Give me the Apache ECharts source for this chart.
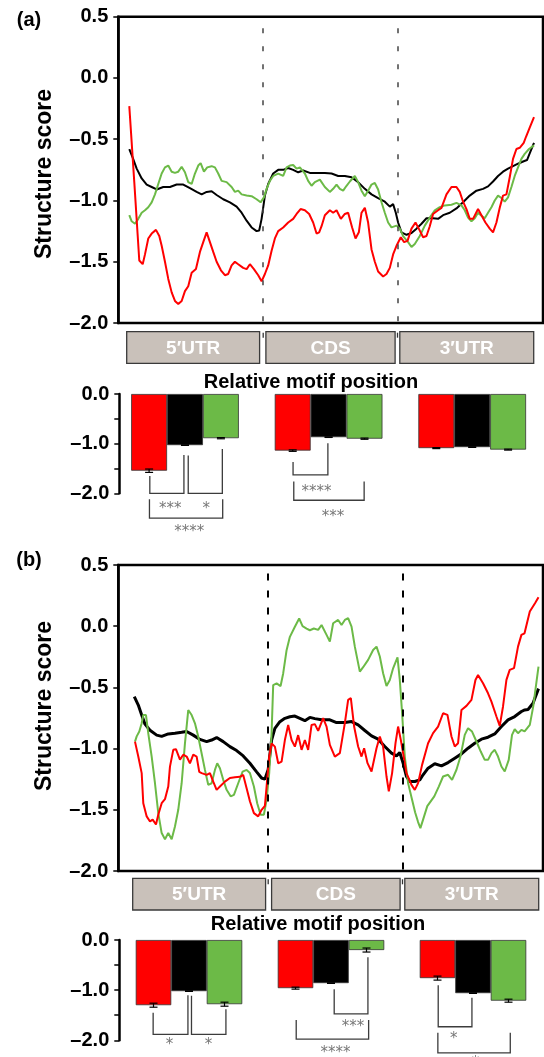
<!DOCTYPE html>
<html>
<head>
<meta charset="utf-8">
<script src="https://cdn.jsdelivr.net/npm/echarts@6/dist/echarts.min.js"></script>
<style>
  html, body { margin: 0; padding: 0; background: #fff; }
  #chart { width: 544px; height: 1057px; }
</style>
</head>
<body>
<div id="chart"></div>
<script>
// position along the transcript (arbitrary units), structure score
const redA = [[11,-0.23],[16,-0.85],[21,-1.49],[24.4,-1.52],[26.7,-1.44],[30,-1.31],[33.4,-1.27],[37.7,-1.24],[41,-1.29],[43.4,-1.37],[46.7,-1.5],[50,-1.64],[53.4,-1.75],[56.7,-1.82],[60,-1.845],[63.4,-1.82],[66.7,-1.74],[70,-1.7],[73.4,-1.59],[77.7,-1.56],[81.7,-1.42],[85,-1.34],[88.4,-1.26],[91.7,-1.34],[95,-1.42],[98.4,-1.5],[102.7,-1.57],[106.7,-1.61],[110,-1.6],[113.4,-1.53],[116.7,-1.5],[120,-1.52],[125,-1.55],[128.4,-1.56],[131.7,-1.52],[135.7,-1.56],[140,-1.61],[143.4,-1.66],[146.7,-1.6],[150,-1.53],[153.4,-1.41],[156.7,-1.31],[160,-1.25],[165,-1.22],[170,-1.18],[175,-1.15],[178.4,-1.11],[182.4,-1.07],[186.7,-1.08],[191,-1.11],[195,-1.18],[198.4,-1.27],[201,-1.26],[203.4,-1.21],[206.7,-1.12],[211.7,-1.08],[215,-1.1],[218.4,-1.08],[222.7,-1.15],[226.7,-1.11],[230,-1.1],[234,-1.22],[237.4,-1.31],[240.7,-1.26],[243.4,-1.1],[246.7,-1.06],[250,-1.18],[253.4,-1.4],[256.7,-1.5],[260,-1.58],[265,-1.62],[268.4,-1.6],[271.7,-1.55],[275,-1.44],[278.4,-1.37],[282.7,-1.3],[286,-1.34],[289.4,-1.33],[293.4,-1.23],[297.4,-1.18],[300.7,-1.23],[305,-1.3],[308.4,-1.29],[311.7,-1.21],[315,-1.11],[320,-1.08],[323.4,-1.06],[328.4,-0.95],[333.4,-0.89],[338.4,-0.89],[341.7,-0.93],[345,-1.01],[348.4,-1.07],[351.7,-1.15],[355,-1.15],[360,-1.07],[363.4,-1.12],[367.4,-1.18],[371.7,-1.23],[375,-1.26],[378.4,-1.18],[381.7,-1.06],[385,-0.96],[388.4,-0.95],[391.7,-0.81],[395,-0.66],[398.4,-0.58],[401.7,-0.57],[405.7,-0.53],[408,-0.48],[412,-0.4],[416,-0.32]];
const blackA = [[11,-0.58],[14.4,-0.65],[18.4,-0.74],[23.4,-0.82],[28.4,-0.87],[33.4,-0.89],[38.4,-0.91],[45,-0.89],[51.7,-0.89],[58.4,-0.87],[65,-0.87],[71.7,-0.9],[78.4,-0.93],[83.4,-0.95],[88.4,-0.93],[93.4,-0.925],[98.4,-0.955],[105,-0.99],[111.7,-1.015],[118.4,-1.05],[123.4,-1.1],[128.4,-1.165],[133.4,-1.22],[138.4,-1.25],[141,-1.245],[143.4,-1.15],[146.7,-0.96],[150,-0.865],[155,-0.78],[160,-0.75],[165,-0.75],[170,-0.735],[175,-0.75],[180,-0.77],[185,-0.755],[191.7,-0.775],[201,-0.775],[206.7,-0.775],[213.4,-0.78],[220,-0.8],[226.7,-0.8],[233.4,-0.81],[240,-0.85],[246.7,-0.905],[253.4,-0.95],[260,-0.98],[266.7,-1.01],[271.7,-1.05],[275,-1.03],[277.7,-1.1],[280,-1.18],[283.4,-1.26],[288.4,-1.28],[293.4,-1.265],[298.4,-1.23],[303.4,-1.19],[308.4,-1.145],[315,-1.145],[320,-1.15],[325,-1.12],[331.7,-1.1],[338.4,-1.065],[345,-1.015],[351.7,-0.96],[358.4,-0.92],[365,-0.905],[370,-0.885],[375,-0.845],[380,-0.8],[385,-0.765],[390,-0.74],[395,-0.72],[400,-0.7],[405.7,-0.68],[409,-0.67],[412,-0.61],[416,-0.53]];
const greenA = [[11,-1.12],[13.4,-1.17],[16.7,-1.19],[20,-1.15],[23.4,-1.1],[26.7,-1.08],[30,-1.055],[33.4,-1.015],[36.7,-0.95],[40,-0.865],[43.4,-0.78],[46.7,-0.73],[50,-0.715],[53.4,-0.765],[56.7,-0.775],[60,-0.765],[63.4,-0.725],[66.7,-0.77],[70,-0.85],[73.4,-0.865],[76.7,-0.78],[80,-0.715],[82.4,-0.695],[85.7,-0.765],[89,-0.73],[93.4,-0.72],[96.7,-0.73],[100,-0.78],[103.4,-0.84],[108.4,-0.85],[113.4,-0.89],[116.7,-0.93],[120,-0.92],[123.4,-0.95],[128.4,-0.96],[133.4,-0.965],[138.4,-0.99],[142.4,-1.015],[145.7,-0.975],[148.4,-0.905],[151.7,-0.84],[155,-0.8],[160,-0.78],[165,-0.8],[168.4,-0.73],[171.7,-0.715],[175,-0.71],[178.4,-0.74],[181.7,-0.73],[186.7,-0.78],[190,-0.84],[193.4,-0.88],[196.7,-0.85],[201.7,-0.83],[206.7,-0.89],[211.7,-0.93],[215,-0.905],[218.4,-0.87],[221.7,-0.905],[225,-0.92],[228.4,-0.88],[231.7,-0.845],[236.7,-0.8],[240,-0.85],[243.4,-0.92],[246.7,-0.966],[250,-0.92],[253.4,-0.87],[256.7,-0.857],[260,-0.91],[263.4,-1.015],[266.7,-1.1],[270,-1.18],[273.4,-1.22],[278.4,-1.205],[281.7,-1.23],[285,-1.29],[290,-1.34],[293.4,-1.38],[296.7,-1.355],[301.7,-1.29],[306.7,-1.205],[311.7,-1.14],[316.7,-1.08],[321.7,-1.055],[326.7,-1.04],[333.4,-1.035],[338.4,-1.02],[343.4,-1.04],[346.7,-1.08],[350,-1.14],[353.4,-1.17],[356.7,-1.145],[360,-1.1],[363.4,-1.125],[366.7,-1.145],[370,-1.1],[373.4,-1.055],[376.7,-1],[380,-0.96],[383.4,-0.98],[386.7,-1.01],[390,-0.975],[393.4,-0.89],[396.7,-0.8],[400.7,-0.715],[403.4,-0.66],[406.7,-0.62],[411,-0.58],[416,-0.55]];

const redB = [[16.7,-0.943],[20,-1.065],[23.4,-1.2],[25,-1.446],[28.4,-1.554],[31.7,-1.595],[34.4,-1.58],[37.7,-1.62],[40,-1.54],[43.4,-1.446],[46.7,-1.413],[50,-1.31],[51.7,-1.147],[55,-1.01],[57.7,-1.005],[61.7,-1.09],[65,-1.05],[68.4,-1.065],[71.7,-1.12],[75,-1.05],[78.4,-1.065],[81,-1.19],[83.4,-1.2],[88.4,-1.215],[91.7,-1.2],[95,-1.27],[98.4,-1.337],[101.7,-1.31],[106.7,-1.27],[111.7,-1.24],[116.7,-1.234],[121.7,-1.23],[125,-1.215],[128.4,-1.323],[131.7,-1.43],[135.7,-1.527],[140,-1.554],[143.4,-1.5],[146.7,-1.467],[148.4,-1.31],[151,-1.065],[153.4,-0.957],[156.7,-0.984],[160,-1.12],[163.4,-1.106],[166.7,-0.93],[170,-0.807],[173.4,-0.93],[176.7,-0.984],[180,-0.89],[183.4,-1.01],[186.7,-0.93],[190,-1.01],[193.4,-0.807],[196.7,-0.8],[200,-0.855],[205,-0.751],[208.4,-0.82],[211.7,-0.969],[216.7,-1.065],[221.7,-1.037],[226.7,-0.792],[230,-0.602],[232.7,-0.588],[236,-0.82],[240,-0.983],[243.4,-1.065],[246,-0.997],[249.4,-1.119],[253.4,-1.187],[258.4,-0.997],[261.7,-0.901],[265,-0.983],[268.4,-1.228],[270.7,-1.35],[274,-1.2],[277.4,-0.956],[280,-0.82],[282.7,-0.929],[285,-1.037],[288.4,-1.2],[293.4,-1.296],[296.7,-1.337],[300,-1.282],[304,-1.133],[310,-0.956],[315,-0.874],[320,-0.82],[325,-0.711],[329.4,-0.724],[333.4,-0.901],[336.7,-0.983],[340,-0.956],[343.4,-0.684],[348.4,-0.651],[353.4,-0.602],[357.4,-0.439],[360,-0.398],[365,-0.466],[370,-0.548],[373.4,-0.616],[378.4,-0.738],[381.7,-0.814],[385,-0.656],[388.4,-0.439],[391.7,-0.357],[396,-0.343],[400,-0.167],[403.4,-0.071],[406.5,-0.058],[409.3,0.037],[411.8,0.12],[417,0.187],[420.5,0.236]];
const blackB = [[16,-0.576],[20,-0.644],[23.4,-0.726],[26.7,-0.8],[31.7,-0.85],[38.4,-0.89],[43.4,-0.9],[50,-0.88],[56.7,-0.875],[63.4,-0.867],[68.4,-0.86],[75,-0.89],[81.7,-0.925],[88.4,-0.943],[93.4,-0.93],[98.4,-0.91],[105,-0.943],[111.7,-0.984],[118.4,-1.016],[125,-1.06],[131.7,-1.12],[138.4,-1.19],[143.4,-1.24],[146.7,-1.25],[150,-1.17],[153.4,-0.93],[156.7,-0.834],[161.7,-0.78],[166.7,-0.753],[171.7,-0.74],[176.7,-0.734],[181.7,-0.753],[186.7,-0.772],[191.7,-0.745],[196.7,-0.755],[203.4,-0.765],[211.7,-0.765],[218.4,-0.787],[226.7,-0.787],[233.4,-0.779],[240,-0.806],[246.7,-0.852],[253.4,-0.896],[260,-0.923],[266.7,-0.983],[273.4,-1.037],[278.4,-1.059],[281.7,-1.032],[285,-1.119],[288.4,-1.228],[291.7,-1.269],[296.7,-1.269],[301.7,-1.255],[305,-1.214],[310,-1.16],[316.7,-1.124],[323.4,-1.141],[330,-1.114],[336.7,-1.078],[343.4,-1.043],[350,-0.997],[356.7,-0.956],[363.4,-0.923],[370,-0.907],[376.7,-0.88],[383.4,-0.82],[390,-0.765],[396.7,-0.738],[403.4,-0.697],[406.7,-0.684],[410,-0.68],[415,-0.63],[420.5,-0.51]];
const greenB = [[16.7,-0.943],[18.4,-0.9],[21,-0.86],[23.4,-0.793],[25,-0.726],[27.7,-0.726],[30,-0.875],[33.4,-1.065],[36.7,-1.283],[40,-1.527],[43.4,-1.69],[46.7,-1.74],[50,-1.69],[53.4,-1.74],[56.7,-1.636],[60,-1.5],[63.4,-1.283],[66.7,-0.957],[70,-0.685],[73.4,-0.726],[76.7,-0.793],[80,-0.902],[83.4,-1.04],[86.7,-1.174],[90,-1.296],[93.4,-1.283],[96.7,-1.174],[99,-1.12],[101.7,-1.16],[105,-1.255],[108.4,-1.337],[112.4,-1.39],[115.7,-1.378],[120,-1.283],[124.4,-1.188],[128.4,-1.174],[131.7,-1.2],[135.7,-1.31],[139,-1.446],[142.4,-1.54],[145.7,-1.54],[148.4,-1.418],[151,-1.2],[153.4,-0.875],[155,-0.481],[158.4,-0.467],[162.4,-0.489],[165,-0.386],[168.4,-0.196],[171.7,-0.087],[176.7,-0.005],[181,0.063],[184.4,0],[188.4,-0.019],[191.7,-0.033],[195.7,-0.019],[200,-0.03],[203.4,0.01],[208.4,-0.071],[211.7,-0.126],[215,0.024],[220,0.051],[223.4,0.01],[226.7,0.051],[230,0.065],[233.4,-0.003],[236.7,-0.167],[241.7,-0.371],[245,-0.335],[250,-0.275],[255,-0.194],[258.4,-0.167],[261.7,-0.248],[265,-0.384],[268.4,-0.488],[271.7,-0.439],[275,-0.344],[279.4,-0.254],[281.7,-0.439],[284,-0.71],[286.7,-1.065],[290,-1.282],[294,-1.418],[297,-1.52],[300,-1.6],[302.3,-1.65],[305,-1.58],[309.2,-1.47],[316.2,-1.39],[320.7,-1.31],[325,-1.228],[330,-1.214],[334,-1.255],[338.4,-1.173],[342.4,-1.065],[346.7,-0.888],[350,-0.833],[354,-0.861],[358.4,-0.942],[362.7,-1.024],[366.7,-1.092],[370,-1.092],[373.4,-1.037],[376.7,-1.01],[380,-1.065],[383.4,-1.146],[386.7,-1.187],[390.7,-1.092],[394,-0.888],[396.7,-0.842],[400,-0.874],[403.4,-0.847],[406.6,-0.86],[411.8,-0.806],[415.2,-0.657],[418.7,-0.44],[420.5,-0.33]];

// region boundaries (dashed lines) and region boxes
const regionNames = ['5\u2032UTR', 'CDS', '3\u2032UTR'];
const boundsA = [145, 279.4];
const boundsB = [150, 284.4];
const boxesA = [[8.4, 141.4], [147.7, 277], [281.7, 415.7]];
const boxesB = [[14.4, 147.4], [153.4, 282], [286.7, 420.7]];

// mean structure score per region (red, black, green) and error
const barRedA = [-1.545, -1.14, -1.09];
const barBlackA = [-1.03, -0.87, -1.07];
const barGreenA = [-0.89, -0.9, -1.12];
const errRedA = [0.034, 0.015, 0.01];
const errBlackA = [0.005, 0.005, 0.005];
const errGreenA = [0.012, 0.012, 0.01];
const barRedB = [-1.3, -0.96, -0.76];
const barBlackB = [-1.02, -0.86, -1.06];
const barGreenB = [-1.28, -0.2, -1.21];
const errRedB = [0.04, 0.02, 0.04];
const errBlackB = [0.005, 0.005, 0.005];
const errGreenB = [0.04, 0.04, 0.03];

// significance brackets: [region, x1 slot, x2 slot, y1, y2, bottom]
const bracketsA = [[0,-0.98,-0.03,-1.65,-1.23,-2.0],[0,0.09,1.04,-1.24,-1.11,-2.0],[0,-0.99,1.05,-2.12,-2.12,-2.5],[1,-0.99,-0.02,-1.37,-0.99,-1.63],[1,-0.97,0.99,-1.76,-1.76,-2.14]];
const starsA = [[0,-0.41,-2.25],[0,0.59,-2.25],[0,0.12,-2.72],[1,-0.34,-1.92],[1,0.12,-2.42]];
const starTextA = ['***', '*', '****', '****', '***'];
const bracketsB = [[0,-1.01,-0.03,-1.45,-1.1,-1.88],[0,0.07,1.04,-1.11,-1.38,-1.88],[1,0.09,1.04,-0.98,-0.345,-1.475],[1,-0.98,1.06,-1.595,-1.595,-1.975],[2,-0.98,-0.03,-0.9,-1.15,-1.73],[2,-0.99,1.05,-1.85,-1.85,-2.25]];
const starsB = [[0,-0.55,-2.03],[0,0.55,-2.03],[1,0.62,-1.675],[1,0.13,-2.19],[2,-0.54,-1.91],[2,0.07,-2.39]];
const starTextB = ['*', '*', '***', '****', '*', '*'];

const RED = '#ff0000';
const BLACK = '#000000';
const GREEN = '#6cba47';
const FONT = '"Liberation Sans", Arial, sans-serif';
const BAR_SHARE = 0.25;

const fmt = (v) => (v < 0 ? '\u2013' : '') + Math.abs(v).toFixed(1);

function lineYAxis(gridIndex) {
  return {
    gridIndex, type: 'value', min: -2, max: 0.5, interval: 0.5,
    axisLine: { show: true, lineStyle: { color: '#000', width: 2.5 } },
    axisTick: { show: true, length: 5, lineStyle: { color: '#000', width: 1.5 } },
    axisLabel: { color: '#000', fontFamily: FONT, fontWeight: 'bold', fontSize: 20, margin: 10, formatter: fmt },
    splitLine: { show: false },
  };
}

function barYAxis(gridIndex, offset) {
  return {
    gridIndex, type: 'value', min: -2, max: 0, interval: 0.5, offset,
    axisLine: { show: true, lineStyle: { color: '#000', width: 2.5 } },
    axisTick: { show: true, length: 5, lineStyle: { color: '#000', width: 1.5 } },
    axisLabel: {
      color: '#000', fontFamily: FONT, fontWeight: 'bold', fontSize: 20, margin: 10,
      formatter: (v) => (v % 1 === 0 ? fmt(v) : ''),
    },
    splitLine: { show: false },
  };
}

function hiddenValueX(gridIndex, max) {
  return { gridIndex, type: 'value', min: 0, max, show: false };
}

function lineSeries(idx, data, color, width) {
  return {
    type: 'line', xAxisIndex: idx, yAxisIndex: idx, data, color,
    showSymbol: false, symbol: 'none', lineStyle: { color, width },
  };
}

function dashedBounds(idx, bounds, top, color, width, dash) {
  return {
    type: 'line', xAxisIndex: idx, yAxisIndex: idx, data: [],
    markLine: {
      silent: true, symbol: ['none', 'none'], label: { show: false },
      lineStyle: { color, width, type: dash },
      data: bounds.map((b) => [{ coord: [b, top] }, { coord: [b, -2] }]),
    },
  };
}

function boxSeries(idx, boxes, bounds) {
  return {
    type: 'custom', xAxisIndex: idx, yAxisIndex: idx, data: boxes,
    renderItem: (params, api) => {
      const p0 = api.coord([api.value(0), 1]);
      const p1 = api.coord([api.value(1), 0]);
      const children = [
        { type: 'rect', shape: { x: p0[0], y: p0[1], width: p1[0] - p0[0], height: p1[1] - p0[1] },
          style: { fill: '#c9c1ba', stroke: '#3a3a3a', lineWidth: 1.3 } },
        { type: 'text', x: (p0[0] + p1[0]) / 2, y: (p0[1] + p1[1]) / 2 + 1,
          style: { text: regionNames[params.dataIndex], fill: '#fff', font: 'bold 19px ' + FONT,
            align: 'center', verticalAlign: 'middle', textAlign: 'center', textVerticalAlign: 'middle' } },
      ];
      if (params.dataIndex < bounds.length) {
        const t = api.coord([bounds[params.dataIndex], 1]);
        children.push({ type: 'line', shape: { x1: t[0], y1: t[1] + 1, x2: t[0], y2: t[1] + 6 },
          style: { stroke: '#333', lineWidth: 1.3 } });
      }
      return { type: 'group', children };
    },
  };
}

function barSeries(idx, data, color) {
  return {
    type: 'bar', xAxisIndex: idx, yAxisIndex: idx, data, barWidth: '25%', barGap: '0%',
    itemStyle: { color, borderColor: '#333', borderWidth: 0.8 },
  };
}

function slotX(api, cat, slot) {
  const band = Math.abs(api.coord([1, 0])[0] - api.coord([0, 0])[0]);
  return api.coord([cat, 0])[0] + slot * band * BAR_SHARE;
}

function errorSeries(idx, means, errs) {
  const rows = [];
  means.forEach((m, k) => m.forEach((v, cat) => rows.push([cat, k - 1, v, errs[k][cat]])));
  return {
    type: 'custom', xAxisIndex: idx, yAxisIndex: idx, data: rows, z: 5,
    renderItem: (params, api) => {
      const x = slotX(api, api.value(0), api.value(1));
      const m = api.value(2), e = api.value(3);
      const yt = api.coord([0, m + e])[1], yb = api.coord([0, m - e])[1];
      const s = { stroke: '#000', lineWidth: 1.2 };
      return { type: 'group', children: [
        { type: 'line', shape: { x1: x, y1: yt, x2: x, y2: yb }, style: s },
        { type: 'line', shape: { x1: x - 4, y1: yt, x2: x + 4, y2: yt }, style: s },
        { type: 'line', shape: { x1: x - 4, y1: yb, x2: x + 4, y2: yb }, style: s },
      ] };
    },
  };
}

function bracketSeries(idx, brackets) {
  return {
    type: 'custom', xAxisIndex: idx, yAxisIndex: idx, data: brackets, z: 6,
    renderItem: (params, api) => {
      const cat = api.value(0);
      const x1 = slotX(api, cat, api.value(1));
      const x2 = slotX(api, cat, api.value(2));
      const y1 = api.coord([0, api.value(3)])[1];
      const y2 = api.coord([0, api.value(4)])[1];
      const yb = api.coord([0, api.value(5)])[1];
      return { type: 'polyline', shape: { points: [[x1, y1], [x1, yb], [x2, yb], [x2, y2]] },
        style: { stroke: '#3c3c3c', lineWidth: 1.3, fill: null } };
    },
  };
}

function starSeries(idx, stars, texts) {
  return {
    type: 'custom', xAxisIndex: idx, yAxisIndex: idx, data: stars, z: 6,
    renderItem: (params, api) => {
      const x = slotX(api, api.value(0), api.value(1));
      const y = api.coord([0, api.value(2)])[1] + 3;
      return { type: 'text', x, y,
        style: { text: texts[params.dataIndex], fill: '#777',
          font: '15px "DejaVu Sans", sans-serif', align: 'center', verticalAlign: 'middle',
          textAlign: 'center', textVerticalAlign: 'middle' } };
    },
  };
}

function label(text, x, y, size, rotation) {
  return { type: 'text', x, y, rotation: rotation || 0,
    style: { text, fill: '#000', font: 'bold ' + size + 'px ' + FONT,
      align: 'center', verticalAlign: 'middle', textAlign: 'center', textVerticalAlign: 'middle' } };
}

const chart = echarts.init(document.getElementById('chart'));
chart.setOption({
  animation: false,
  backgroundColor: '#fff',
  grid: [
    { left: 118.3, top: 16.7, width: 424.7, height: 306.3, show: true, borderColor: '#000', borderWidth: 2.5 },
    { left: 118.3, top: 331.7, width: 424.7, height: 31.6 },
    { left: 113.2, top: 394, width: 435, height: 99.3 },
    { left: 118.3, top: 565, width: 424.7, height: 306, show: true, borderColor: '#000', borderWidth: 2.5 },
    { left: 118.3, top: 878.3, width: 424.7, height: 31.7 },
    { left: 118, top: 940, width: 435, height: 100.3 },
  ],
  xAxis: [
    hiddenValueX(0, 425),
    hiddenValueX(1, 425),
    { gridIndex: 2, type: 'category', data: regionNames, show: false },
    hiddenValueX(3, 425),
    hiddenValueX(4, 425),
    { gridIndex: 5, type: 'category', data: regionNames, show: false },
  ],
  yAxis: [
    lineYAxis(0),
    { gridIndex: 1, type: 'value', min: 0, max: 1, show: false },
    barYAxis(2, -6.1),
    lineYAxis(3),
    { gridIndex: 4, type: 'value', min: 0, max: 1, show: false },
    barYAxis(5, -1.3),
  ],
  graphic: [
    label('(a)', 29, 20, 20),
    label('(b)', 29, 560, 20),
    label('Structure score', 45, 174, 23, Math.PI / 2),
    label('Structure score', 45, 706, 23, Math.PI / 2),
    label('Relative motif position', 311, 382, 20),
    label('Relative motif position', 318, 924, 20),
  ],
  series: [
    dashedBounds(0, boundsA, 0.405, '#444', 1.5, [5, 13]),
    lineSeries(0, blackA, BLACK, 2),
    lineSeries(0, greenA, GREEN, 2),
    lineSeries(0, redA, RED, 2),
    boxSeries(1, boxesA, boundsA),
    barSeries(2, barRedA, RED),
    barSeries(2, barBlackA, BLACK),
    barSeries(2, barGreenA, GREEN),
    errorSeries(2, [barRedA, barBlackA, barGreenA], [errRedA, errBlackA, errGreenA]),
    bracketSeries(2, bracketsA),
    starSeries(2, starsA, starTextA),

    dashedBounds(3, boundsB, 0.43, '#000', 2, [7, 10]),
    lineSeries(3, blackB, BLACK, 3),
    lineSeries(3, greenB, GREEN, 2),
    lineSeries(3, redB, RED, 2),
    boxSeries(4, boxesB, boundsB),
    barSeries(5, barRedB, RED),
    barSeries(5, barBlackB, BLACK),
    barSeries(5, barGreenB, GREEN),
    errorSeries(5, [barRedB, barBlackB, barGreenB], [errRedB, errBlackB, errGreenB]),
    bracketSeries(5, bracketsB),
    starSeries(5, starsB, starTextB),
  ],
});
</script>
</body>
</html>
